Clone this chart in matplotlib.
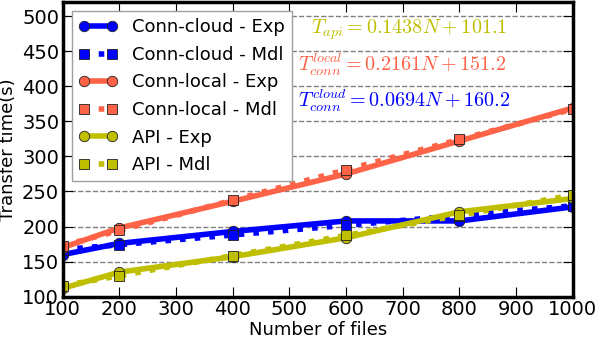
import matplotlib
matplotlib.use("Agg")
import matplotlib.pyplot as plt

plt.rcParams['mathtext.fontset'] = 'cm'
plt.rcParams['font.size'] = 13

files = [100, 200, 400, 600, 800, 1000]
cloud_exp = [160, 176, 193, 208, 208, 228]
cloud_mdl = [167.1, 174.1, 188.0, 201.8, 215.7, 229.6]
local_exp = [170, 198, 236, 275, 322, 369]
local_mdl = [172.8, 194.4, 237.6, 280.9, 324.1, 367.3]
api_exp = [112, 135, 157, 184, 221, 240]
api_mdl = [115.5, 129.9, 158.6, 187.4, 216.1, 244.9]

c_cloud = '#0000ff'
c_local = '#ff6347'
c_api = '#bfbf00'

fig = plt.figure(figsize=(5.98, 3.45), dpi=100)
ax = fig.add_axes([0.1048, 0.14, 0.853, 0.854])

kw_exp = dict(lw=4, ms=7.5, mec='#202020', mew=0.6)
kw_mdl = dict(lw=4, ms=6.5, mec='#202020', mew=0.6)
ax.plot(files, cloud_exp, '-o', color=c_cloud, label='Conn-cloud - Exp', **kw_exp)
ax.plot(files, cloud_mdl, ':s', color=c_cloud, label='Conn-cloud - Mdl', **kw_mdl)
ax.plot(files, local_exp, '-o', color=c_local, label='Conn-local - Exp', **kw_exp)
ax.plot(files, local_mdl, ':s', color=c_local, label='Conn-local - Mdl', **kw_mdl)
ax.plot(files, api_exp, '-o', color=c_api, label='API - Exp', **kw_exp)
ax.plot(files, api_mdl, ':s', color=c_api, label='API - Mdl', **kw_mdl)

ax.set_xlim(100, 1000)
ax.set_ylim(100, 520)
ax.set_xticks(range(100, 1001, 100))
ax.set_yticks(range(100, 501, 50))
ax.yaxis.grid(True, linestyle='--', color='gray', lw=1)
ax.set_axisbelow(True)
ax.tick_params(direction='in', top=True, right=True, length=7, labelsize=14, pad=2.5)
for s in ax.spines.values():
    s.set_linewidth(2.5)

ax.set_xlabel('Number of files', fontsize=13, labelpad=1)
ax.set_ylabel('Transfer time(s)', fontsize=13, labelpad=4)

ax.text(0.487, 0.905, r'$T_{api} = 0.1438N + 101.1$', transform=ax.transAxes, color=c_api, fontsize=14.5, ha='left', va='center')
ax.text(0.462, 0.786, r'$T_{conn}^{local} = 0.2161N + 151.2$', transform=ax.transAxes, color=c_local, fontsize=14.5, ha='left', va='center')
ax.text(0.462, 0.667, r'$T_{conn}^{cloud} = 0.0694N + 160.2$', transform=ax.transAxes, color=c_cloud, fontsize=14.5, ha='left', va='center')

leg = ax.legend(loc='upper left', fontsize=13, numpoints=2, handlelength=2.15, fancybox=False, framealpha=1,
                borderaxespad=0.5, labelspacing=0.53)
leg.get_frame().set_edgecolor('#a0a0a0')

fig.savefig('out.png', dpi=100)
